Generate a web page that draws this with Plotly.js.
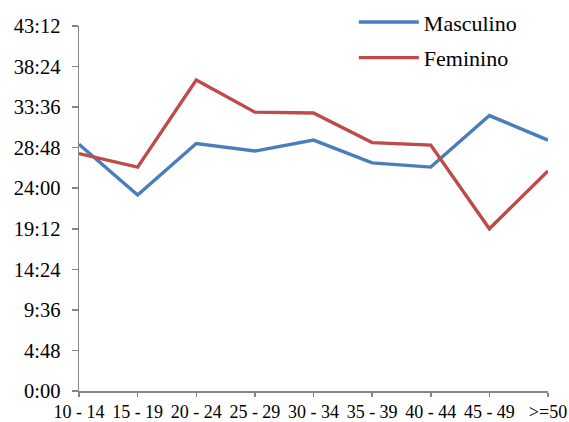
<!DOCTYPE html>
<html>
<head>
<meta charset="utf-8">
<script src="https://cdn.plot.ly/plotly-3.0.1.min.js"></script>
<style>html,body{margin:0;padding:0;background:#fff;}#chart{width:569px;height:422px;}</style>
</head>
<body>
<div id="chart"></div>
<script>
// Age groups
const categories = ["10 - 14", "15 - 19", "20 - 24", "25 - 29", "30 - 34", "35 - 39", "40 - 44", "45 - 49", ">=50"];
// Values in hours
const masculino = [29.2, 23.2, 29.3, 28.4, 29.7, 27.0, 26.5, 32.6, 29.7];
const feminino  = [28.1, 26.5, 36.8, 33.0, 32.9, 29.4, 29.1, 19.2, 26.05];
// Y tick values (hours) and labels
const yTickVals = [0, 4.8, 9.6, 14.4, 19.2, 24, 28.8, 33.6, 38.4, 43.2];
const yTickText = ["0:00", "4:48", "9:36", "14:24", "19:12", "24:00", "28:48", "33:36", "38:24", "43:12"];

const fam = "Liberation Serif, Times New Roman, serif";
const axisColor = "#868686";

const traces = [
  {x: categories, y: masculino, name: "Masculino", type: "scatter", mode: "lines",
   line: {color: "#4A7EBB", width: 3.4}, legendgroup: "a"},
  {x: categories, y: feminino, name: "Feminino", type: "scatter", mode: "lines",
   line: {color: "#BE4B48", width: 3.4}, legendgroup: "b"}
];

const layout = {
  width: 569, height: 422,
  margin: {l: 79, r: 21, t: 26, b: 31, pad: 0, autoexpand: false},
  paper_bgcolor: "#fff", plot_bgcolor: "#fff",
  font: {family: fam, size: 18, color: "#000"},
  showlegend: true,
  legend: {x: 0.586, y: 1.068, xanchor: "left", yanchor: "top",
           font: {family: fam, size: 22, color: "#000"},
           bgcolor: "rgba(0,0,0,0)", traceorder: "grouped", tracegroupgap: 4, itemwidth: 60},
  xaxis: {type: "category", range: [0, 8], showgrid: false, zeroline: false,
          showline: true, linecolor: axisColor, linewidth: 1.5,
          ticks: "outside", ticklen: 4, tickcolor: axisColor, tickwidth: 1.5,
          tickfont: {family: fam, size: 18, color: "#000"}, fixedrange: true},
  yaxis: {range: [0, 43.2], showgrid: false, zeroline: false,
          showline: true, linecolor: axisColor, linewidth: 1.5,
          ticks: "outside", ticklen: 6, tickcolor: axisColor, tickwidth: 1.5,
          tickvals: yTickVals, ticktext: yTickText,
          tickfont: {family: fam, size: 20.5, color: "#000"},
          ticklabelstandoff: 7, fixedrange: true}
};

Plotly.newPlot("chart", traces, layout, {displayModeBar: false, staticPlot: true});
</script>
</body>
</html>
